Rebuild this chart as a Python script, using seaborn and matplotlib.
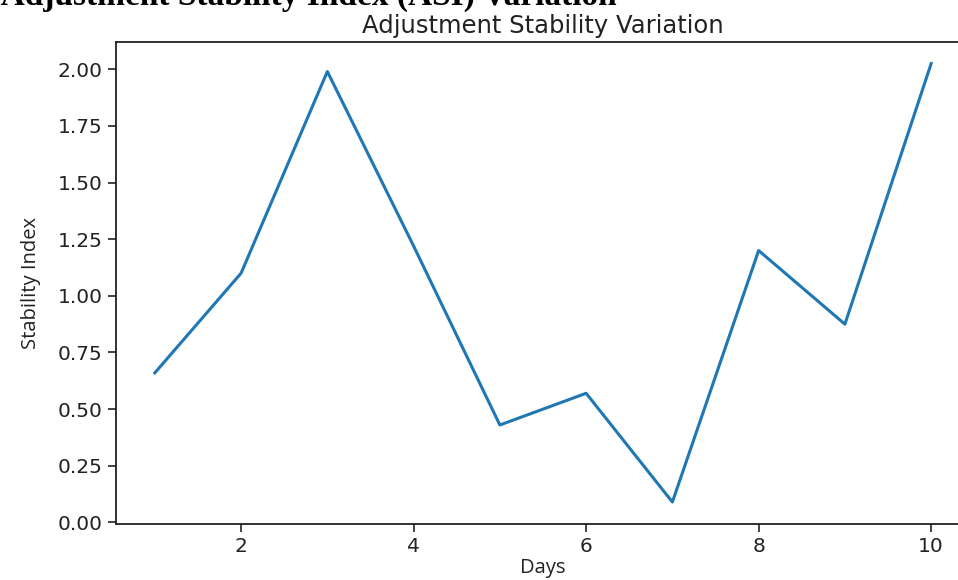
import matplotlib
matplotlib.use("Agg")
import matplotlib.pyplot as plt
import seaborn as sns

# values
days = [1, 2, 3, 4, 5, 6, 7, 8, 9, 10]
stability_index = [0.66, 1.10, 1.99, 1.22, 0.43, 0.57, 0.09, 1.20, 0.875, 2.025]
y_ticks = [0.0, 0.25, 0.5, 0.75, 1.0, 1.25, 1.5, 1.75, 2.0]

fig = plt.figure(figsize=(9.58, 5.8), dpi=100)
# right spine falls outside the canvas, like the cropped screenshot
ax = fig.add_axes([0.1211, 0.0966, 0.8914, 0.8316])

sns.lineplot(x=days, y=stability_index, ax=ax, color="#1f77b4", linewidth=2.2)

ax.set_yticks(y_ticks)
ax.set_yticklabels([f"{v:.2f}" for v in y_ticks])
ax.tick_params(labelsize=14.5, length=6, width=1.2, colors="#222222")
for s in ax.spines.values():
    s.set_linewidth(1.3)
    s.set_color("#222222")

ax.set_title("Adjustment Stability Variation", fontsize=17.5, pad=6, color="#222222")
ax.set_xlabel("Days", fontsize=14.5, family="Open Sans", labelpad=1, color="#222222")
ax.set_ylabel("Stability Index", fontsize=14.5, family="Open Sans", labelpad=12, color="#222222")

# document caption partly cut off at the top of the screenshot
fig.text(617 / 958, 1 - 5 / 580, "Figure 4: Adjustment Stability Index (ASI) Variation",
         ha="right", va="baseline", fontsize=24, fontweight="bold",
         family="Liberation Serif")

fig.savefig("out.png", dpi=100)
